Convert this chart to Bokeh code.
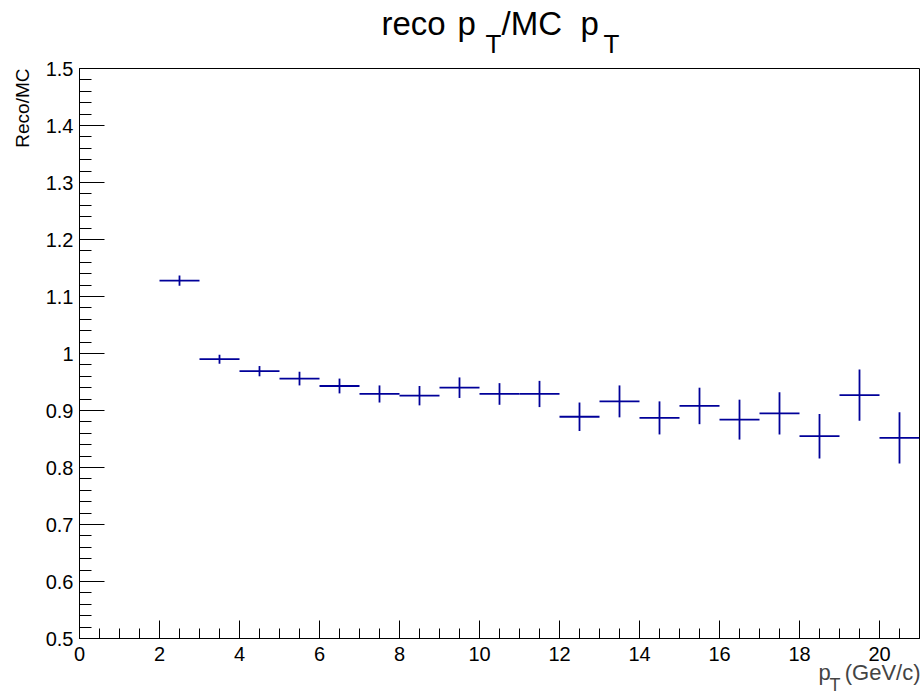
from bokeh.plotting import figure
from bokeh.models import Range1d, SingleIntervalTicker, Label, Title
from bokeh.layouts import column
from bokeh.embed import file_html
from bokeh.resources import INLINE

# ---- data ----
bin_low = [2, 3, 4, 5, 6, 7, 8, 9, 10, 11, 12, 13, 14, 15, 16, 17, 18, 19, 20]
bin_high = [3, 4, 5, 6, 7, 8, 9, 10, 11, 12, 13, 14, 15, 16, 17, 18, 19, 20, 21]
ratio = [1.128, 0.990, 0.969, 0.956, 0.943, 0.929, 0.926, 0.940, 0.929, 0.929,
         0.889, 0.916, 0.887, 0.908, 0.884, 0.895, 0.855, 0.927, 0.852]
ratio_err = [0.009, 0.008, 0.009, 0.012, 0.013, 0.015, 0.017, 0.018, 0.019, 0.023,
             0.025, 0.028, 0.029, 0.032, 0.035, 0.037, 0.039, 0.045, 0.045]

title_parts = ["reco", "p", "T", "/MC", "p", "T"]
x_label_parts = ["p", "T", "(GeV/c)"]
y_label = "Reco/MC"

FONT = "Liberation Sans"
COLOR = "#000099"
W = 921
TITLE_H, TITLE_OVERLAP = 64, 8
MAIN_H = 614
XLAB_H, XLAB_OVERLAP = 34, 10


def text_panel(width, height, top, **kw):
    """A blank strip whose data coordinates are page pixels (y downwards)."""
    f = figure(width=width, height=height, frame_width=width, frame_height=height,
               output_backend="svg", toolbar_location=None, title=None,
               x_range=Range1d(0, width), y_range=Range1d(top + height, top),
               x_axis_type=None, y_axis_type=None, frame_align=False,
               min_border_left=0, min_border_right=0, min_border_top=0, min_border_bottom=0, **kw)
    f.outline_line_color = None
    f.grid.visible = False
    f.background_fill_color = None
    f.border_fill_color = None
    return f


# ---- title strip (pieces placed where the reference shows them) ----
tfig = text_panel(W, TITLE_H, 0)
t_x = [381, 457, 485, 501, 580, 603]
t_base = [23, 23, 43, 23, 23, 43]
t_size = [33, 33, 26, 33, 33, 26]
for txt, x, b, s in zip(title_parts, t_x, t_base, t_size):
    tfig.add_layout(Label(x=x, y=b, text=txt, text_font=FONT, text_font_size=f"{s}px",
                          text_align="left", text_baseline="alphabetic", text_color="black"))

# ---- main plot (pulled up over the transparent bottom of the title strip) ----
p = figure(width=W, height=MAIN_H, output_backend="svg", toolbar_location=None,
           x_range=Range1d(0, 21), y_range=Range1d(0.5, 1.5), frame_align=False,
           min_border_left=79, min_border_right=2, min_border_top=12, min_border_bottom=32,
           margin=(-TITLE_OVERLAP, 0, 0, 0))
p.background_fill_color = "white"
p.border_fill_color = None
p.outline_line_color = "black"
p.outline_line_width = 1
p.xgrid.visible = False
p.ygrid.visible = False

p.xaxis.ticker = SingleIntervalTicker(interval=2, num_minor_ticks=4)
p.yaxis.ticker = SingleIntervalTicker(interval=0.1, num_minor_ticks=5)
for ax, maj, mnr in ((p.xaxis, 18, 10), (p.yaxis, 25, 12)):
    ax.major_tick_in = maj
    ax.major_tick_out = 0
    ax.minor_tick_in = mnr
    ax.minor_tick_out = 0
    ax.axis_line_color = "black"
    ax.major_tick_line_color = "black"
    ax.minor_tick_line_color = "black"
    ax.major_label_text_font = FONT
    ax.major_label_text_font_size = "20px"
    ax.major_label_text_color = "black"
p.yaxis.major_label_standoff = 6
p.xaxis.major_label_standoff = 8
p.yaxis.formatter.use_scientific = False

p.add_layout(Title(text=y_label, align="right", text_font=FONT, text_font_size="19px",
                   text_font_style="normal", text_color="black", standoff=19), "left")

centers = [(a + b) / 2 for a, b in zip(bin_low, bin_high)]
lo = [r - e for r, e in zip(ratio, ratio_err)]
hi = [r + e for r, e in zip(ratio, ratio_err)]
p.segment(x0=bin_low, y0=ratio, x1=bin_high, y1=ratio, line_color=COLOR, line_width=1.8)
p.segment(x0=centers, y0=lo, x1=centers, y1=hi, line_color=COLOR, line_width=1.8)

# ---- x axis label strip, pulled up to overlap the main plot's bottom border ----
top = TITLE_H - TITLE_OVERLAP + MAIN_H - XLAB_OVERLAP
xfig = text_panel(W, XLAB_H, top, margin=(-XLAB_OVERLAP, 0, 0, 0))
xfig.add_layout(Label(x=920, y=672, text=x_label_parts[2], text_font=FONT, text_font_size="22px",
                      text_align="right", text_baseline="alphabetic"))
xfig.add_layout(Label(x=829, y=684, text=x_label_parts[1], text_font=FONT,
                      text_font_size="18px", text_align="left", text_baseline="alphabetic"))
xfig.add_layout(Label(x=818, y=672, text=x_label_parts[0], text_font=FONT,
                      text_font_size="22px", text_align="left", text_baseline="alphabetic"))

layout = column(tfig, p, xfig, spacing=0)
open("out.html", "w").write(file_html(layout, INLINE))
